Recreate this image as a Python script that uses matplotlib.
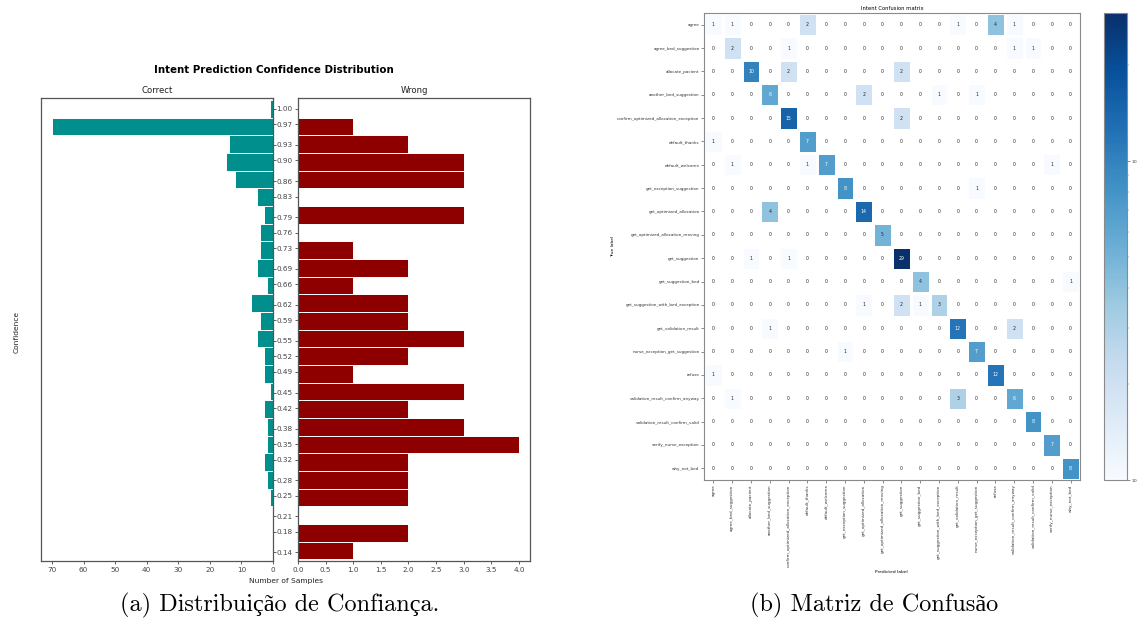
import numpy as np
import matplotlib
matplotlib.use("Agg")
import matplotlib.pyplot as plt
from matplotlib.colors import LogNorm

# ---------------- data: confidence distribution ----------------
confidence_labels = [1.00, 0.97, 0.93, 0.90, 0.86, 0.83, 0.79, 0.76, 0.73, 0.69,
                     0.66, 0.62, 0.59, 0.55, 0.52, 0.49, 0.45, 0.42, 0.38, 0.35,
                     0.32, 0.28, 0.25, 0.21, 0.18, 0.14]
correct_counts = [1, 70, 14, 15, 12, 5, 3, 4, 4, 5, 2, 7, 4, 5, 3, 3, 1, 3, 2, 2,
                  3, 2, 1, 0, 0, 0]
wrong_counts = [0, 1, 2, 3, 3, 0, 3, 0, 1, 2, 1, 2, 2, 3, 2, 1, 3, 2, 3, 4,
                2, 2, 2, 0, 2, 1]
hist_range = (0.1268, 1.0173)   # histogram edges (low, high)

# ---------------- data: confusion matrix ----------------
intents = ["agree", "agree_bed_suggestion", "allocate_pacient", "another_bed_suggestion",
           "confirm_optimized_allocation_exception", "default_thanks", "default_welcome",
           "get_exception_suggestion", "get_optimized_allocation",
           "get_optimized_allocation_moving", "get_suggestion", "get_suggestion_bed",
           "get_suggestion_with_bed_exception", "get_validation_result",
           "nurse_exception_get_suggestion", "refuse", "validation_result_confirm_anyway",
           "validation_result_confirm_valid", "verify_nurse_exception", "why_not_bed"]
confusion = [
    [1, 1, 0, 0, 0, 2, 0, 0, 0, 0, 0, 0, 0, 1, 0, 4, 1, 0, 0, 0],
    [0, 2, 0, 0, 1, 0, 0, 0, 0, 0, 0, 0, 0, 0, 0, 0, 1, 1, 0, 0],
    [0, 0, 10, 0, 2, 0, 0, 0, 0, 0, 2, 0, 0, 0, 0, 0, 0, 0, 0, 0],
    [0, 0, 0, 6, 0, 0, 0, 0, 2, 0, 0, 0, 1, 0, 1, 0, 0, 0, 0, 0],
    [0, 0, 0, 0, 15, 0, 0, 0, 0, 0, 2, 0, 0, 0, 0, 0, 0, 0, 0, 0],
    [1, 0, 0, 0, 0, 7, 0, 0, 0, 0, 0, 0, 0, 0, 0, 0, 0, 0, 0, 0],
    [0, 1, 0, 0, 0, 1, 7, 0, 0, 0, 0, 0, 0, 0, 0, 0, 0, 0, 1, 0],
    [0, 0, 0, 0, 0, 0, 0, 8, 0, 0, 0, 0, 0, 0, 1, 0, 0, 0, 0, 0],
    [0, 0, 0, 4, 0, 0, 0, 0, 14, 0, 0, 0, 0, 0, 0, 0, 0, 0, 0, 0],
    [0, 0, 0, 0, 0, 0, 0, 0, 0, 5, 0, 0, 0, 0, 0, 0, 0, 0, 0, 0],
    [0, 0, 1, 0, 1, 0, 0, 0, 0, 0, 29, 0, 0, 0, 0, 0, 0, 0, 0, 0],
    [0, 0, 0, 0, 0, 0, 0, 0, 0, 0, 0, 4, 0, 0, 0, 0, 0, 0, 0, 1],
    [0, 0, 0, 0, 0, 0, 0, 0, 1, 0, 2, 1, 3, 0, 0, 0, 0, 0, 0, 0],
    [0, 0, 0, 1, 0, 0, 0, 0, 0, 0, 0, 0, 0, 12, 0, 0, 2, 0, 0, 0],
    [0, 0, 0, 0, 0, 0, 0, 1, 0, 0, 0, 0, 0, 0, 7, 0, 0, 0, 0, 0],
    [1, 0, 0, 0, 0, 0, 0, 0, 0, 0, 0, 0, 0, 0, 0, 12, 0, 0, 0, 0],
    [0, 1, 0, 0, 0, 0, 0, 0, 0, 0, 0, 0, 0, 3, 0, 0, 6, 0, 0, 0],
    [0, 0, 0, 0, 0, 0, 0, 0, 0, 0, 0, 0, 0, 0, 0, 0, 0, 8, 0, 0],
    [0, 0, 0, 0, 0, 0, 0, 0, 0, 0, 0, 0, 0, 0, 0, 0, 0, 0, 7, 0],
    [0, 0, 0, 0, 0, 0, 0, 0, 0, 0, 0, 0, 0, 0, 0, 0, 0, 0, 0, 8],
]

caption_a = "(a) Distribuição de Confiança."
caption_b = "(b) Matriz de Confusão"

# ---------------- figure ----------------
W, H = 1137, 619
fig = plt.figure(figsize=(W / 100, H / 100), dpi=100)

def fx(px):
    return px / W

def fy(py):
    return 1 - py / H

# ---- left: confidence distribution ----
edges = np.linspace(hist_range[0], hist_range[1], len(correct_counts) + 1)
centers = ((edges[:-1] + edges[1:]) / 2)[::-1]
bin_w = edges[1] - edges[0]

ax_top, ax_bot = 97.5, 561
ax1 = fig.add_axes([fx(41), fy(ax_bot), fx(273 - 41), (ax_bot - ax_top) / H])
ax2 = fig.add_axes([fx(298), fy(ax_bot), fx(530 - 298), (ax_bot - ax_top) / H], sharey=ax1)

ax1.barh(centers, correct_counts, height=bin_w, color="#008F8C", edgecolor="white", linewidth=0.7)
ax2.barh(centers, wrong_counts, height=bin_w, color="#8E0000", edgecolor="white", linewidth=0.7)
ax1.invert_xaxis()
ax1.set_ylim(0.1235, 1.022)

ax2.set_yticks(confidence_labels)
ax2.set_yticklabels([f"{v:.2f}" for v in confidence_labels])
ax1.yaxis.tick_right()
ax1.tick_params(axis="y", labelright=False)

for ax in (ax1, ax2):
    ax.tick_params(labelsize=5.2, length=2.5, width=0.6, colors="#444444", pad=1.5)
    for s in ax.spines.values():
        s.set_color("#555555")
        s.set_linewidth(0.9)

ax1.set_title("Correct", fontsize=6.1, pad=3, color="#222222")
ax2.set_title("Wrong", fontsize=6.1, pad=3, color="#222222")
fig.text(fx(274), fy(69.6), "Intent Prediction Confidence Distribution", fontsize=7.4,
         fontweight="bold", ha="center", va="center")
fig.text(fx(16.8), fy(331.8), "Confidence", fontsize=5.4, rotation=90, ha="center",
         va="center", color="#222222")
fig.text(fx(285.7), fy(581.4), "Number of Samples", fontsize=5.4, ha="center",
         va="center", color="#222222")

# ---- right: confusion matrix ----
cm = np.array(confusion)
n = len(intents)
hm_l, hm_r, hm_t, hm_b = 704, 1080, 13, 480
axh = fig.add_axes([fx(hm_l), fy(hm_b), fx(hm_r - hm_l), (hm_b - hm_t) / H])
norm = LogNorm(vmin=1, vmax=cm.max())
cmap = plt.get_cmap("Blues")
mesh = axh.pcolormesh(np.ma.masked_equal(cm, 0), cmap=cmap, norm=norm,
                      edgecolors="white", linewidth=0.8)
axh.set_xlim(0, n)
axh.set_ylim(n, 0)

def lum(c):
    rgb = np.array(c[:3])
    rgb = np.where(rgb <= 0.03928, rgb / 12.92, ((rgb + 0.055) / 1.055) ** 2.4)
    return 0.2126 * rgb[0] + 0.7152 * rgb[1] + 0.0722 * rgb[2]

for i in range(n):
    for j in range(n):
        v = cm[i, j]
        col = "#262626"
        if v > 0 and lum(cmap(norm(v))) < 0.408:
            col = "white"
        axh.text(j + 0.5, i + 0.5, str(v), ha="center", va="center", fontsize=3.3, color=col)

axh.set_xticks(np.arange(n) + 0.5)
axh.set_yticks(np.arange(n) + 0.5)
axh.set_xticklabels(intents, rotation=90, fontsize=3)
axh.set_yticklabels(intents, fontsize=3)
axh.tick_params(length=2, width=0.4, colors="#333333", pad=1.2)
for s in axh.spines.values():
    s.set_color("#8a8a8a")
    s.set_linewidth(0.8)
axh.set_title("Intent Confusion matrix", fontsize=3.8, pad=2)
fig.text(fx(612.7), fy(246.7), "True label", fontsize=3.2, rotation=90, ha="center", va="center")
fig.text(fx(891.7), fy(572), "Predicted label", fontsize=3.2, ha="center", va="center")

cax = fig.add_axes([fx(1104), fy(hm_b), fx(23), (hm_b - hm_t) / H])
cb = fig.colorbar(mesh, cax=cax)
cb.ax.tick_params(labelsize=3, length=2, width=0.4, colors="#333333", pad=1)
cb.ax.tick_params(which="minor", length=1.2, width=0.3, colors="#555555")
cb.outline.set_edgecolor("#8a8a8a")
cb.outline.set_linewidth(0.8)

# ---- captions ----
cap_font = ["cmr10", "Liberation Serif"]
fig.text(fx(280), fy(611), caption_a, fontsize=17.5, family=cap_font, ha="center", va="baseline")
fig.text(fx(874), fy(611), caption_b, fontsize=17.5, family=cap_font, ha="center", va="baseline")

fig.savefig("out.png", dpi=100)
